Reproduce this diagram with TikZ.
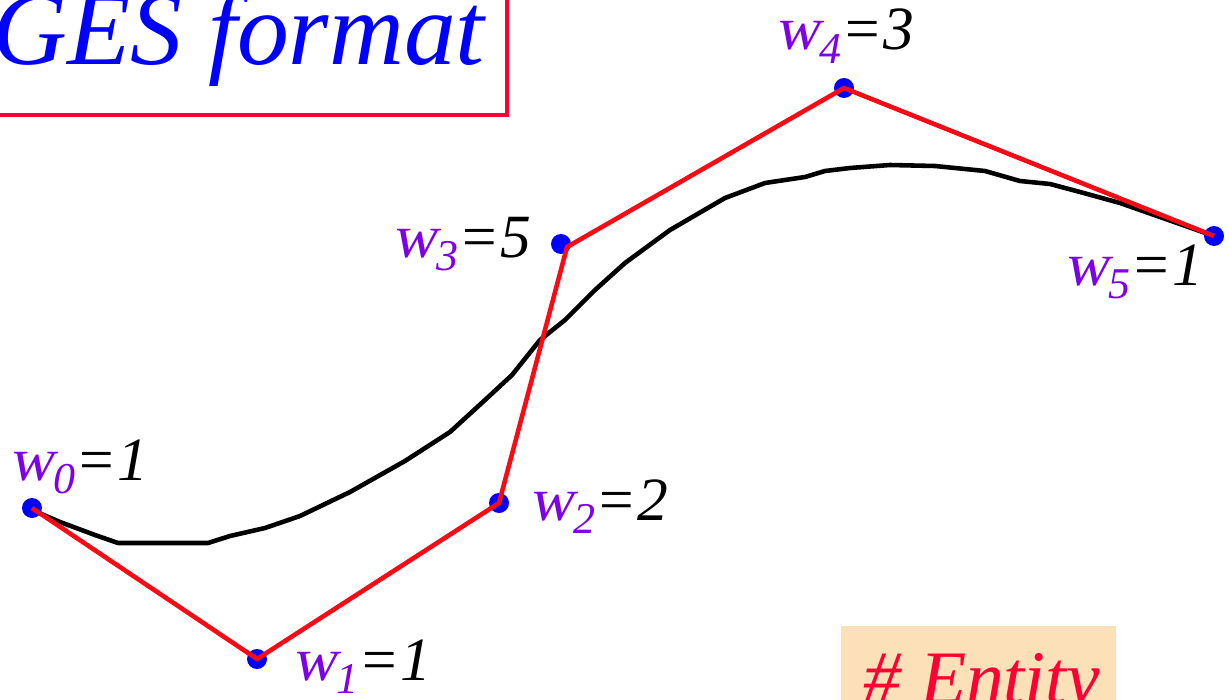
\documentclass[tikz,border=0pt]{standalone}
\usepackage{fontspec}
\setmainfont{Liberation Serif}
\newfontfamily\wfont[FakeSlant=0.18]{Liberation Serif}
\usepackage{tikz}
\usetikzlibrary{positioning,calc}
\definecolor{wviolet}{RGB}{125,0,232}
\definecolor{polyred}{RGB}{250,10,20}
\definecolor{framered}{RGB}{255,0,50}
\definecolor{peach}{RGB}{252,224,184}
\newcommand{\wlab}[2]{{\wfont\color{wviolet}w}\raisebox{-0.22em}{\fontsize{25}{25}\selectfont\itshape\color{wviolet}#1}{\itshape =#2}}
\tikzset{
  wdot/.style={circle,fill=blue,inner sep=0pt,minimum size=0.4cm},
  ctrl/.style={polyred,line width=2.6pt,line join=miter},
  curve/.style={black,line width=2.6pt,line join=round},
  wlabel/.style={anchor=base west,inner sep=0pt,font=\fontsize{35}{37}\selectfont},
  titletext/.style={anchor=base east,inner sep=0pt,text=blue,font=\fontsize{59}{62}\selectfont\itshape},
  frame/.style={framered,line width=2.4pt},
  entitytext/.style={anchor=base west,inner sep=0pt,text=framered,font=\fontsize{43}{45}\selectfont\itshape}
}
\begin{document}
\begin{tikzpicture}[x=0.02cm,y=-0.02cm]
\useasboundingbox (0,0) rectangle (1229,699);
\clip (0,0) rectangle (1229,699);

% title box, cut by the page edge
\node[titletext] (title) at (485,65) {GES format};
\draw[frame] ($(title.base east)+(22,50)$) rectangle ++(-560,-200);

% entity box, cut by the page edge
\fill[peach] (841,626) rectangle (1116,760);
\node[entitytext] (entity) at (863,703) {\# Entity};

% curve
\draw[curve] plot coordinates {(32,510) (60,522) (95,535) (118,543) (208,543) (230,536) (265,528)
  (300,516) (350,492) (405,461) (450,432) (485,400) (512,375) (540,340) (565,320) (595,290)
  (625,263) (670,230) (725,198) (765,183) (805,177) (825,171) (850,168) (890,165) (935,166)
  (985,171) (1020,181) (1050,184) (1080,192) (1120,203) (1160,217) (1214,236)};

% control points
\node[wdot] (p0) at (32,508) {};
\node[wdot] (p1) at (257,659) {};
\node[wdot] (p2) at (499,503) {};
\node[wdot] (p3) at (561,244) {};
\node[wdot] (p4) at (844,88) {};
\node[wdot] (p5) at (1214,236) {};
\coordinate (p3r) at (567,247);

\draw[ctrl] (p0.center) -- (p1.center) -- (p2.center) -- (p3r) -- (p4.center) -- (p5.center);

% weights
\node[wlabel] (w0) at (9,480) {\wlab{0}{1}};
\node[wlabel] (w1) at (292,680) {\wlab{1}{1}};
\node[wlabel] (w2) at (529,520) {\wlab{2}{2}};
\node[wlabel] (w3) at (392,257) {\wlab{3}{5}};
\node[wlabel] (w4) at (775,50) {\wlab{4}{3}};
\node[wlabel] (w5) at (1064,285) {\wlab{5}{1}};
\end{tikzpicture}
\end{document}
